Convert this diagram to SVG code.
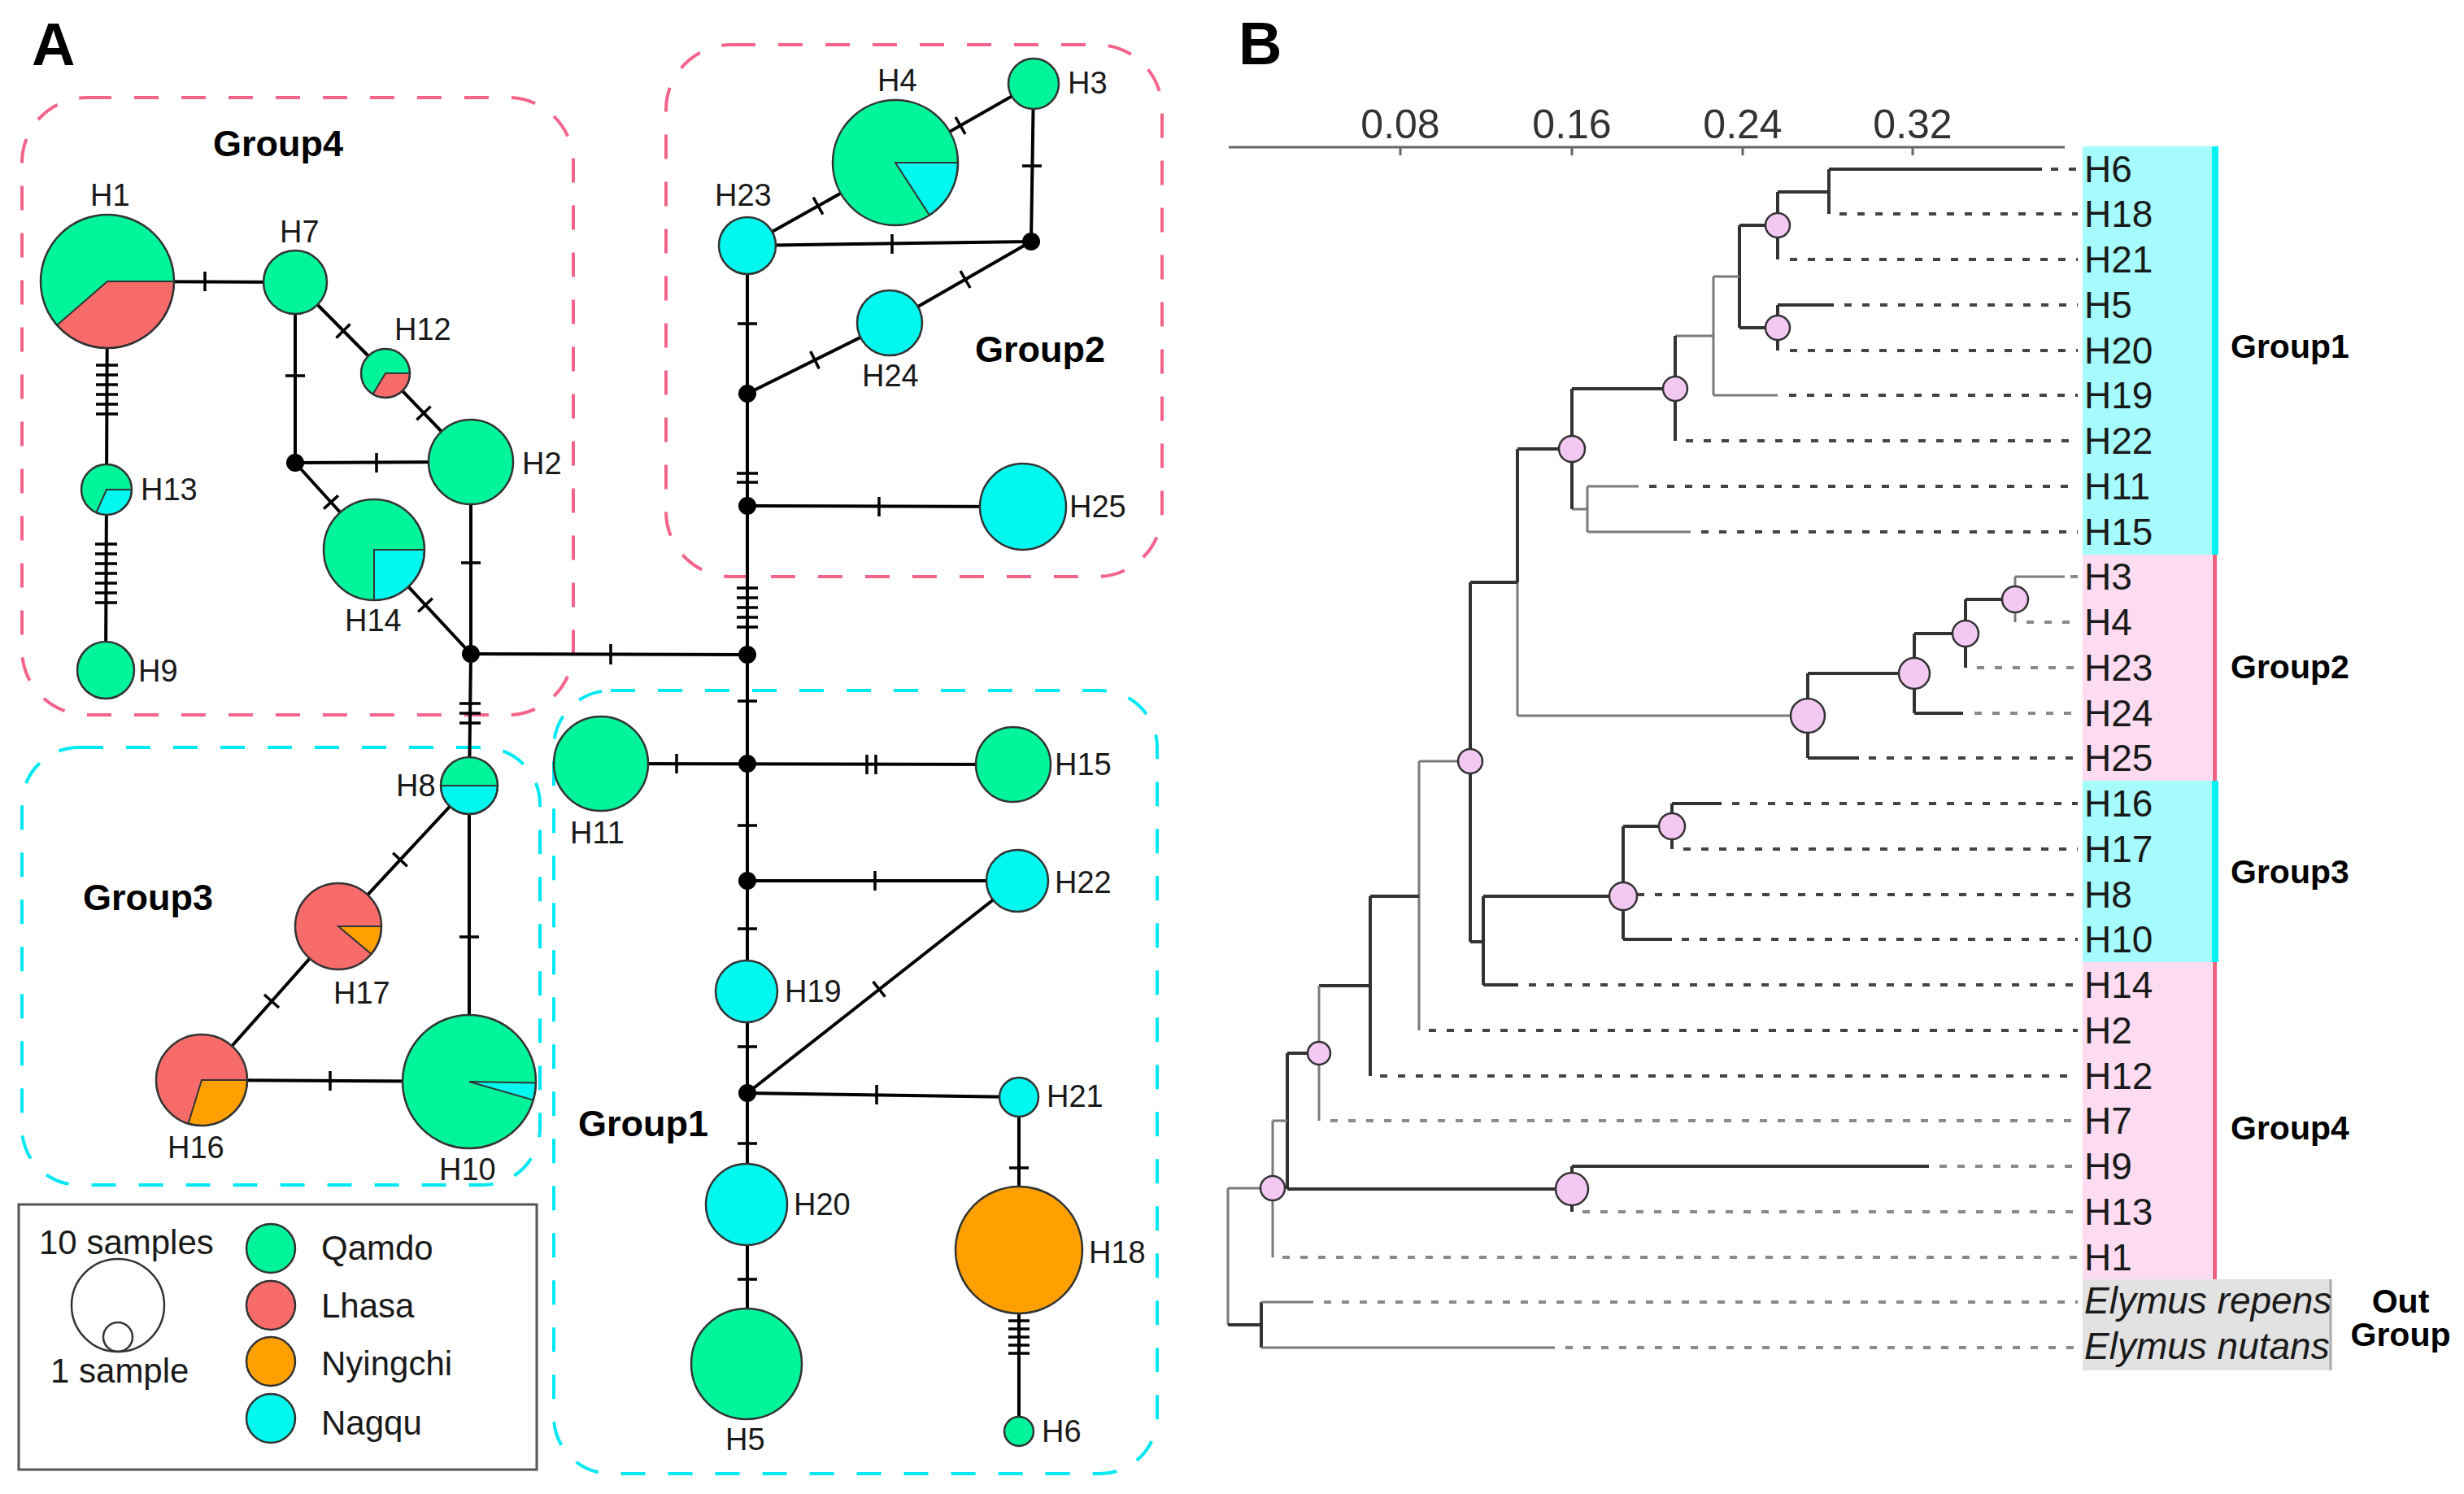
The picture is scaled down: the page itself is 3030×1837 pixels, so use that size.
<svg xmlns="http://www.w3.org/2000/svg" width="3030" height="1837" viewBox="0 0 3030 1837">
<style>
text{font-family:"Liberation Sans",Arial,sans-serif;fill:#1a1a1a}
.pl{font-size:74px;font-weight:bold;fill:#000}
.hl{font-size:38px}
.gl{font-size:45px;font-weight:bold;fill:#000}
.lg{font-size:42px}
.ed{stroke:#000;stroke-width:4;fill:none}
.tk{stroke:#000;stroke-width:3.5;fill:none}
.nd{stroke:#333;stroke-width:2.5}
.sec{stroke:#333;stroke-width:2}
.jn{fill:#000}
.q{fill:#00f59b}.l{fill:#f76b6b}.ny{fill:#ffa000}.na{fill:#00f8ee}
.bxp{fill:none;stroke:#f4648a;stroke-width:4;stroke-dasharray:30 28}
.bxc{fill:none;stroke:#00e8f2;stroke-width:4;stroke-dasharray:30 28}
.br{stroke:#333;stroke-width:4;fill:none}
.brl{stroke:#7a7a7a;stroke-width:3;fill:none}
.ds{stroke:#444;stroke-width:4;stroke-dasharray:9 13;fill:none}
.dsl{stroke:#8a8a8a;stroke-width:4;stroke-dasharray:9 13;fill:none}
.pc{fill:#f3c8f3;stroke:#333;stroke-width:2.5}
.tl{font-size:46px}
.ax{font-size:50px;fill:#333}
.bg{font-size:41px;font-weight:bold;fill:#000}
</style>

<!-- ===== Panel A ===== -->
<text class="pl" x="39" y="80">A</text>

<g id="group-boxes">
<rect class="bxp" x="27" y="120" width="678" height="759" rx="80"/>
<rect class="bxp" x="819" y="55" width="610" height="654" rx="80"/>
<rect class="bxc" x="27" y="919" width="637" height="538" rx="70"/>
<rect class="bxc" x="681" y="849" width="742" height="963" rx="70"/>
<text class="gl" x="262" y="192">Group4</text>
<text class="gl" x="1199" y="445">Group2</text>
<text class="gl" x="102" y="1119">Group3</text>
<text class="gl" x="711" y="1397">Group1</text>
</g>

<g id="connectors">
<path class="ed" d="M132,346 L363,347"/>
<path class="ed" d="M363,347 L474,459 L579,568"/>
<path class="ed" d="M363,347 L363,569 L579,568"/>
<path class="ed" d="M363,569 L460,676 L579,804"/>
<path class="ed" d="M579,568 L579,804"/>
<path class="ed" d="M132,346 L131,602 L130,824"/>
<path class="ed" d="M579,804 L919,805"/>
<path class="ed" d="M579,804 L577,966 L577,1330"/>
<path class="ed" d="M577,966 L416,1139 L248,1328 L577,1330"/>
<path class="ed" d="M919,302 L1101,200 L1271,103 L1268,297 L919,302"/>
<path class="ed" d="M1268,297 L1094,397 L919,484"/>
<path class="ed" d="M919,302 L919,1677"/>
<path class="ed" d="M919,622 L1258,623"/>
<path class="ed" d="M739,939 L1246,940"/>
<path class="ed" d="M919,1083 L1251,1083 L919,1344 L1253,1349 L1253,1760"/>

<path class="tk" d="M252,334V358 M463,557V581 M751,792V817 M406,1317V1341 M1097,288V312 M1081,611V635 M832,927V951 M1066,928V952 M1077,928V952 M1076,1071V1095 M1078,1334V1358"/>
<path class="tk" d="M351,462H375 M567,692H591 M565,865H591 M565,877H591 M565,889H591 M565,1152H589 M1257,204H1281 M907,398H931 M906,582H932 M906,593H932 M906,723H932 M906,735H932 M906,747H932 M906,759H932 M906,771H932 M907,862H931 M907,1015H931 M907,1142H931 M907,1287H931 M907,1406H931 M907,1573H931 M1241,1436H1265 M1240,1624H1266 M1240,1634H1266 M1240,1644H1266 M1240,1654H1266 M1240,1664H1266"/>
<path class="tk" d="M118,449H145 M118,461H145 M118,473H145 M118,485H145 M118,497H145 M118,509H145 M117,669H144 M117,681H144 M117,693H144 M117,705H144 M117,717H144 M117,729H144 M117,741H144"/>
<path class="tk" d="M413.5,415.4L430.5,398.6 M512.4,516.3L529.6,499.7 M398.1,625.6L415.9,609.4 M514.2,752.2L531.8,735.8 M483.2,1048.8L500.8,1065.2 M325,1223L343,1239 M1175,144L1187,164.8 M1000.1,242.7L1011.9,263.7 M1181,333.2L1193,354 M996.7,432L1007.3,453.4 M1073.6,1206.9L1088.4,1225.7"/>
</g>

<g id="junctions">
<circle class="jn" cx="363" cy="569" r="11"/>
<circle class="jn" cx="579" cy="804" r="11"/>
<circle class="jn" cx="1268" cy="297" r="11"/>
<circle class="jn" cx="919" cy="484" r="11"/>
<circle class="jn" cx="919" cy="622" r="11"/>
<circle class="jn" cx="919" cy="805" r="11"/>
<circle class="jn" cx="919" cy="939" r="11"/>
<circle class="jn" cx="919" cy="1083" r="11"/>
<circle class="jn" cx="919" cy="1344" r="11"/>
</g>

<g id="H1"><circle class="q" cx="132" cy="346" r="82"/><path class="l sec" d="M132,346 L214,346 A82,82 0 0 1 70.1,399.8 Z"/><circle class="nd" fill="none" cx="132" cy="346" r="82"/><text class="hl" x="111" y="253">H1</text></g>
<g id="H7"><circle class="q nd" cx="363" cy="347" r="39"/><text class="hl" x="344" y="298">H7</text></g>
<g id="H12"><circle class="q" cx="474" cy="459" r="30"/><path class="l sec" d="M474,459 L504,459 A30,30 0 0 1 458.5,484.7 Z"/><circle class="nd" fill="none" cx="474" cy="459" r="30"/><text class="hl" x="485" y="418">H12</text></g>
<g id="H2"><circle class="q nd" cx="579" cy="568" r="52"/><text class="hl" x="642" y="583">H2</text></g>
<g id="H14"><circle class="q" cx="460" cy="676" r="62"/><path class="na sec" d="M460,676 L522,676 A62,62 0 0 1 460,738 Z"/><circle class="nd" fill="none" cx="460" cy="676" r="62"/><text class="hl" x="424" y="776">H14</text></g>
<g id="H13"><circle class="q" cx="131" cy="602" r="31"/><path class="na sec" d="M131,602 L162,602 A31,31 0 0 1 118.4,630.3 Z"/><circle class="nd" fill="none" cx="131" cy="602" r="31"/><text class="hl" x="173" y="615">H13</text></g>
<g id="H9"><circle class="q nd" cx="130" cy="824" r="35"/><text class="hl" x="170" y="838">H9</text></g>

<g id="H8"><circle class="q" cx="577" cy="966" r="35"/><path class="na sec" d="M542,966 L612,966 A35,35 0 0 1 542,966 Z"/><circle class="nd" fill="none" cx="577" cy="966" r="35"/><text class="hl" x="487" y="979">H8</text></g>
<g id="H17"><circle class="l" cx="416" cy="1139" r="53"/><path class="ny sec" d="M416,1139 L469,1139 A53,53 0 0 1 456.6,1173.1 Z"/><circle class="nd" fill="none" cx="416" cy="1139" r="53"/><text class="hl" x="410" y="1234">H17</text></g>
<g id="H16"><circle class="l" cx="248" cy="1328" r="56"/><path class="ny sec" d="M248,1328 L304,1328 A56,56 0 0 1 231.6,1381.5 Z"/><circle class="nd" fill="none" cx="248" cy="1328" r="56"/><text class="hl" x="206" y="1424">H16</text></g>
<g id="H10"><circle class="q" cx="577" cy="1330" r="82"/><path class="na sec" d="M577,1330 L659,1331.4 A82,82 0 0 1 655.8,1352.6 Z"/><circle class="nd" fill="none" cx="577" cy="1330" r="82"/><text class="hl" x="540" y="1451">H10</text></g>

<g id="H4"><circle class="q" cx="1101" cy="200" r="77"/><path class="na sec" d="M1101,200 L1178,200 A77,77 0 0 1 1143,264.6 Z"/><circle class="nd" fill="none" cx="1101" cy="200" r="77"/><text class="hl" x="1079" y="112">H4</text></g>
<g id="H3"><circle class="q nd" cx="1271" cy="103" r="31"/><text class="hl" x="1313" y="115">H3</text></g>
<g id="H23"><circle class="na nd" cx="919" cy="302" r="35"/><text class="hl" x="879" y="253">H23</text></g>
<g id="H24"><circle class="na nd" cx="1094" cy="397" r="40"/><text class="hl" x="1060" y="475">H24</text></g>
<g id="H25"><circle class="na nd" cx="1258" cy="623" r="53"/><text class="hl" x="1315" y="636">H25</text></g>

<g id="H11"><circle class="q nd" cx="739" cy="939" r="58"/><text class="hl" x="701" y="1037">H11</text></g>
<g id="H15"><circle class="q nd" cx="1246" cy="940" r="46"/><text class="hl" x="1297" y="953">H15</text></g>
<g id="H22"><circle class="na nd" cx="1251" cy="1083" r="38"/><text class="hl" x="1297" y="1098">H22</text></g>
<g id="H19"><circle class="na nd" cx="918" cy="1219" r="38"/><text class="hl" x="965" y="1232">H19</text></g>
<g id="H21"><circle class="na nd" cx="1253" cy="1349" r="24"/><text class="hl" x="1287" y="1361">H21</text></g>
<g id="H20"><circle class="na nd" cx="918" cy="1481" r="50"/><text class="hl" x="976" y="1494">H20</text></g>
<g id="H5"><circle class="q nd" cx="918" cy="1677" r="68"/><text class="hl" x="892" y="1783">H5</text></g>
<g id="H18"><circle class="ny nd" cx="1253" cy="1537" r="78"/><text class="hl" x="1339" y="1553">H18</text></g>
<g id="H6"><circle class="q nd" cx="1253" cy="1760" r="18"/><text class="hl" x="1281" y="1773">H6</text></g>

<g id="legend">
<rect x="23" y="1481" width="637" height="326" fill="none" stroke="#555" stroke-width="3"/>
<text class="lg" x="48" y="1542" font-size="40">10 samples</text>
<circle cx="145" cy="1605" r="57" fill="none" stroke="#333" stroke-width="2.5"/>
<circle cx="145" cy="1644" r="18" fill="none" stroke="#333" stroke-width="2.5"/>
<text class="lg" x="62" y="1700" font-size="40">1 sample</text>
<circle class="q nd" cx="333" cy="1535" r="30"/><text class="lg" x="395" y="1549">Qamdo</text>
<circle class="l nd" cx="333" cy="1605" r="30"/><text class="lg" x="395" y="1620">Lhasa</text>
<circle class="ny nd" cx="333" cy="1674" r="30"/><text class="lg" x="395" y="1691">Nyingchi</text>
<circle class="na nd" cx="333" cy="1744" r="30"/><text class="lg" x="395" y="1764">Nagqu</text>
</g>

<!-- ===== Panel B ===== -->
<text class="pl" x="1523" y="79">B</text>

<g id="axis">
<path d="M1511,181H2539" stroke="#666" stroke-width="3"/>
<path d="M1722,181V191 M1933,181V191 M2143,181V191 M2352,181V191" stroke="#666" stroke-width="3"/>
<text class="ax" x="1722" y="170" text-anchor="middle">0.08</text>
<text class="ax" x="1933" y="170" text-anchor="middle">0.16</text>
<text class="ax" x="2143" y="170" text-anchor="middle">0.24</text>
<text class="ax" x="2352" y="170" text-anchor="middle">0.32</text>
</g>

<g id="clade-bands">
<rect x="2561" y="180" width="159" height="502" fill="#a6fcfc"/>
<rect x="2561" y="682" width="159" height="278" fill="#fddcf2"/>
<rect x="2561" y="960" width="159" height="223" fill="#a6fcfc"/>
<rect x="2561" y="1183" width="159" height="390" fill="#fddcf2"/>
<rect x="2561" y="1573" width="305" height="112" fill="#e2e2e2"/>
<path d="M2866,1573V1685" stroke="#aaa" stroke-width="3"/>
<rect x="2720" y="180" width="8" height="502" fill="#00f2f2"/>
<rect x="2721" y="682" width="5" height="278" fill="#f0607e"/>
<rect x="2720" y="960" width="8" height="223" fill="#00f2f2"/>
<rect x="2721" y="1183" width="5" height="390" fill="#f0607e"/>
<text class="bg" x="2743" y="440">Group1</text>
<text class="bg" x="2743" y="834">Group2</text>
<text class="bg" x="2743" y="1086">Group3</text>
<text class="bg" x="2743" y="1401">Group4</text>
<text class="bg" x="2952" y="1614" text-anchor="middle" font-size="36">Out</text>
<text class="bg" x="2952" y="1655" text-anchor="middle" font-size="36">Group</text>
</g>

<g id="tree-branches">
<path class="br" d="M2249,208V263 M2249,208H2511 M2186,236H2249 M2186,236V319 M2139,277H2186"/>
<path class="br" d="M2186,375V431 M2186,375H2255 M2139,403H2186 M2139,277V403"/>
<path class="brl" d="M2107,340H2139 M2107,340V486 M2107,486H2186 M2060,413H2107"/>
<path class="br" d="M2060,413V542 M1933,478H2060"/>
<path class="brl" d="M1952,598V654 M1952,598H2015 M1952,654H2079 M1933,626H1952"/>
<path class="br" d="M1933,478V626 M1866,552H1933"/>
<path class="br" d="M1866,552V716"/>
<path class="brl" d="M1866,716V880 M1866,880H2223"/>
<path class="br" d="M2223,828V932 M2223,932H2286 M2223,828H2354"/>
<path class="br" d="M2354,779V877 M2354,877H2414 M2354,779H2417"/>
<path class="br" d="M2417,737V821 M2417,737H2478"/>
<path class="brl" d="M2478,709V765 M2478,709H2539"/>
<path class="br" d="M1808,716H1866 M1808,716V1158 M1808,1158H1824"/>
<path class="br" d="M1824,1102V1211 M1824,1211H1867 M1824,1102H1996"/>
<path class="br" d="M1996,1016V1155 M1996,1155H2056 M1996,1016H2056"/>
<path class="br" d="M2056,988V1044 M2056,988H2117"/>
<path class="brl" d="M1745,936H1808 M1745,936V1267"/>
<path class="br" d="M1685,1102H1745 M1685,1102V1323"/>
<path class="br" d="M1622,1212H1685"/>
<path class="brl" d="M1622,1212V1378"/>
<path class="br" d="M1583,1295H1622 M1583,1295V1462 M1583,1462H1933"/>
<path class="br" d="M1933,1434V1490 M1933,1434H2372"/>
<path class="brl" d="M1565,1378H1583 M1565,1378V1546 M1510,1461H1565 M1510,1461V1629"/>
<path class="br" d="M1510,1629H1551 M1551,1601V1657"/>
<path class="brl" d="M1551,1601H1615 M1551,1657H1912"/>
</g>

<g id="tree-leader-lines">
<path class="ds" d="M2522,208H2555 M2262,263H2555 M2201,319H2555 M2268,375H2555 M2201,431H2555 M2200,486H2555 M2073,542H2555 M2028,598H2555 M2092,654H2555"/>
<path class="dsl" d="M2546,709H2555 M2492,765H2555 M2431,821H2555 M2428,877H2555"/>
<path class="ds" d="M2298,932H2555 M2130,988H2555 M2070,1044H2555 M2013,1100H2555 M2068,1155H2555 M1880,1211H2555 M1757,1267H2555 M1697,1323H2555"/>
<path class="dsl" d="M1636,1378H2555 M2385,1434H2555 M1946,1490H2555 M1577,1546H2555 M1628,1601H2555 M1925,1657H2555"/>
</g>

<g id="tree-nodes">
<circle class="pc" cx="2186" cy="277" r="15"/>
<circle class="pc" cx="2186" cy="403" r="15"/>
<circle class="pc" cx="2060" cy="478" r="15"/>
<circle class="pc" cx="1933" cy="552" r="16"/>
<circle class="pc" cx="2223" cy="880" r="21"/>
<circle class="pc" cx="2354" cy="828" r="19"/>
<circle class="pc" cx="2417" cy="779" r="16"/>
<circle class="pc" cx="2478" cy="737" r="16"/>
<circle class="pc" cx="1808" cy="936" r="15"/>
<circle class="pc" cx="1996" cy="1102" r="17"/>
<circle class="pc" cx="2056" cy="1016" r="16"/>
<circle class="pc" cx="1622" cy="1295" r="14"/>
<circle class="pc" cx="1933" cy="1462" r="20"/>
<circle class="pc" cx="1565" cy="1461" r="15"/>
</g>

<g id="tree-labels">
<text class="tl" x="2563" y="224">H6</text>
<text class="tl" x="2563" y="279">H18</text>
<text class="tl" x="2563" y="335">H21</text>
<text class="tl" x="2563" y="391">H5</text>
<text class="tl" x="2563" y="447">H20</text>
<text class="tl" x="2563" y="502">H19</text>
<text class="tl" x="2563" y="558">H22</text>
<text class="tl" x="2563" y="614">H11</text>
<text class="tl" x="2563" y="670">H15</text>
<text class="tl" x="2563" y="725">H3</text>
<text class="tl" x="2563" y="781">H4</text>
<text class="tl" x="2563" y="837">H23</text>
<text class="tl" x="2563" y="893">H24</text>
<text class="tl" x="2563" y="948">H25</text>
<text class="tl" x="2563" y="1004">H16</text>
<text class="tl" x="2563" y="1060">H17</text>
<text class="tl" x="2563" y="1116">H8</text>
<text class="tl" x="2563" y="1171">H10</text>
<text class="tl" x="2563" y="1227">H14</text>
<text class="tl" x="2563" y="1283">H2</text>
<text class="tl" x="2563" y="1339">H12</text>
<text class="tl" x="2563" y="1394">H7</text>
<text class="tl" x="2563" y="1450">H9</text>
<text class="tl" x="2563" y="1506">H13</text>
<text class="tl" x="2563" y="1562">H1</text>
<text class="tl" x="2563" y="1615" font-style="italic" font-size="42">Elymus repens</text>
<text class="tl" x="2563" y="1671" font-style="italic" font-size="42">Elymus nutans</text>
</g>
</svg>
